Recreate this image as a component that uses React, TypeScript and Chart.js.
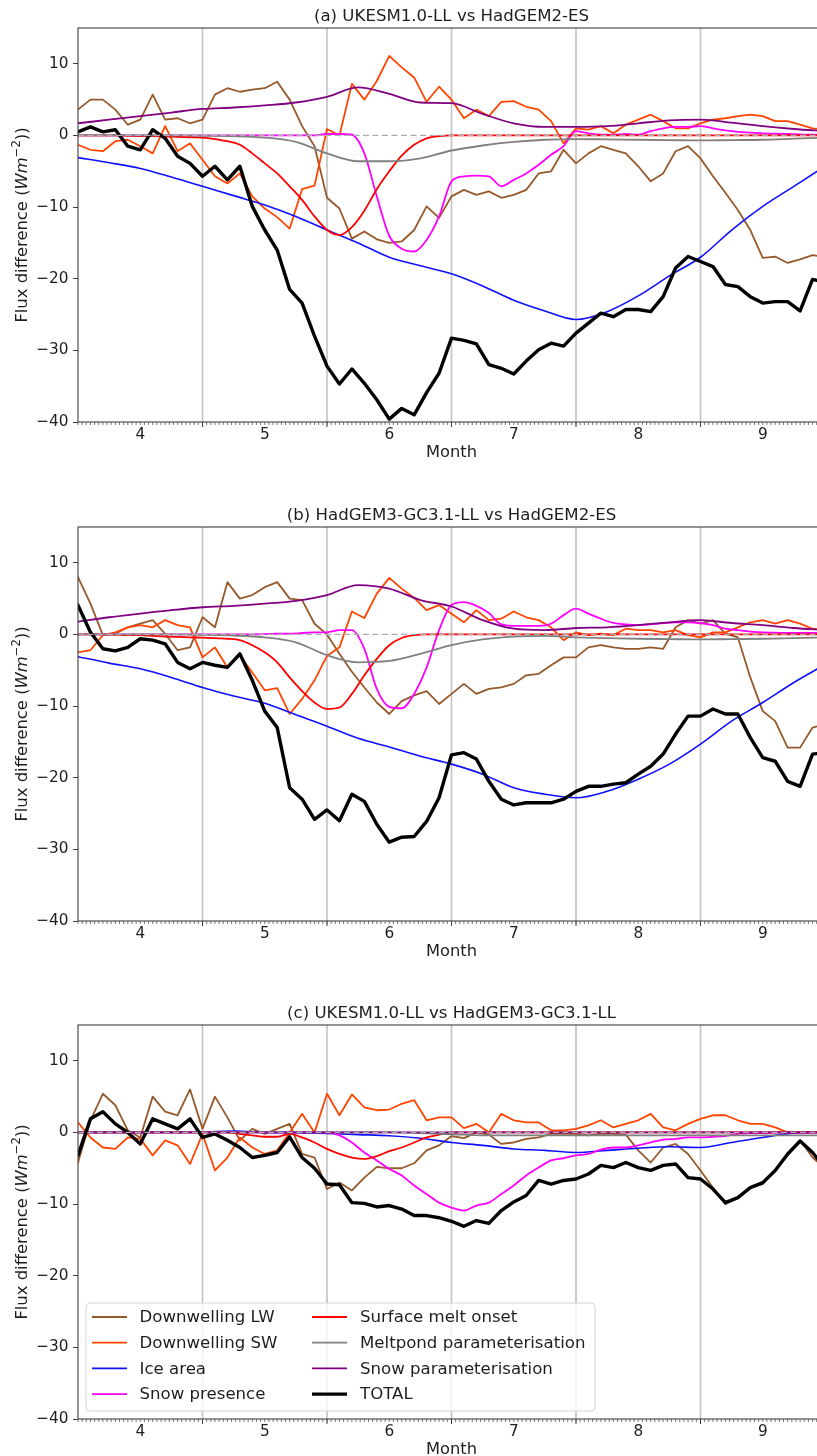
import React, { useEffect, useRef } from "react";
import { Chart, registerables } from "chart.js";

Chart.register(...registerables);

const FONT = "'DejaVu Sans', 'Liberation Sans', sans-serif";
const CANVAS_W = 825;

// Month axis positions (daily-mean curves sampled every 0.1 month, smooth terms every quarter month)
const monthsFine = [
  3.5, 3.6, 3.7, 3.8, 3.9, 4.0, 4.1, 4.2, 4.3, 4.4,
  4.5, 4.6, 4.7, 4.8, 4.9, 5.0, 5.1, 5.2, 5.3, 5.4,
  5.5, 5.6, 5.7, 5.8, 5.9, 6.0, 6.1, 6.2, 6.3, 6.4,
  6.5, 6.6, 6.7, 6.8, 6.9, 7.0, 7.1, 7.2, 7.3, 7.4,
  7.5, 7.6, 7.7, 7.8, 7.9, 8.0, 8.1, 8.2, 8.3, 8.4,
  8.5, 8.6, 8.7, 8.8, 8.9, 9.0, 9.1, 9.2, 9.3, 9.4,
  9.5,
];
const monthsCoarse = [
  3.5, 3.75, 4.0, 4.25,
  4.5, 4.75, 5.0, 5.25,
  5.5, 5.75, 6.0, 6.25,
  6.5, 6.75, 7.0, 7.25,
  7.5, 7.75, 8.0, 8.25,
  8.5, 8.75, 9.0, 9.25,
  9.5,
];
const monthTickLabels = [4, 5, 6, 7, 8, 9];
const monthBoundaries = [4.5, 5.5, 6.5, 7.5, 8.5];
const fluxTicks = [-40, -30, -20, -10, 0, 10];

const seriesNames = [
  "Downwelling LW",
  "Downwelling SW",
  "Ice area",
  "Snow presence",
  "Surface melt onset",
  "Meltpond parameterisation",
  "Snow parameterisation",
  "TOTAL",
];
const seriesColors = ["#96592b", "#ff4500", "#1010ff", "#ff00ff", "#ff0000", "#808080", "#800080", "#000000"];
const seriesWidths = [1.8, 1.8, 1.6, 1.8, 1.8, 1.8, 1.8, 3.4];
const seriesGrid = ["fine", "fine", "coarse", "fine", "fine", "coarse", "coarse", "fine"];
const seriesSmooth = [false, false, true, true, true, true, true, false];

// ---------- (a) UKESM1.0-LL vs HadGEM2-ES ----------
const lwA = [
  3.6, 5.0, 5.0, 3.6, 1.5, 2.2, 5.7, 2.2, 2.4, 1.7,
  2.2, 5.7, 6.6, 6.1, 6.4, 6.6, 7.5, 5.0, 1.3, -1.5,
  -8.7, -10.2, -14.4, -13.4, -14.5, -15.0, -14.8, -13.2, -9.9, -11.5,
  -8.5, -7.6, -8.3, -7.8, -8.7, -8.3, -7.6, -5.3, -5.0, -2.0,
  -3.9, -2.5, -1.5, -2.0, -2.5, -4.3, -6.4, -5.3, -2.2, -1.5,
  -3.2, -5.7, -8.0, -10.4, -13.2, -17.1, -16.9, -17.8, -17.3, -16.7,
  -17.0,
];
const swA = [
  -1.3, -2.0, -2.2, -0.8, -0.6, -1.5, -2.5, 1.3, -2.2, -1.1,
  -3.4, -5.7, -6.7, -5.3, -8.5, -10.2, -11.4, -13.0, -7.5, -7.0,
  0.9, 0.0, 7.2, 5.0, 7.6, 11.1, 9.5, 8.1, 4.7, 6.8,
  5.0, 2.4, 3.6, 2.7, 4.7, 4.8, 4.0, 3.6, 2.0, -1.1,
  1.0, 0.8, 1.3, 0.3, 1.5, 2.2, 2.9, 2.0, 1.0, 1.0,
  1.7, 2.2, 2.4, 2.7, 2.9, 2.7, 2.0, 2.0, 1.5, 1.0,
  0.8,
];
const iceA = [
  -3.1, -3.8, -4.6, -5.8,
  -7.1, -8.4, -9.7, -11.3,
  -13.2, -15.0, -17.0, -18.2,
  -19.3, -21.0, -23.0, -24.5,
  -25.7, -24.6, -22.4, -19.6,
  -17.0, -13.2, -9.9, -7.1,
  -4.3,
];
const snowA = [
  0, 0, 0, 0, 0, 0, 0, 0, 0, 0,
  0, 0, 0, 0, 0, 0, 0, 0, 0, 0,
  0.2, 0.2, 0.1, -2.5, -8.5, -14.0, -15.8, -16.2, -14.6, -11.3,
  -6.4, -5.7, -5.6, -5.7, -7.1, -6.2, -5.3, -4.1, -2.7, -1.5,
  0.6, 0.3, 0.1, 0.1, 0.2, 0.1, 0.6, 1.0, 1.2, 1.2,
  1.3, 1.0, 0.7, 0.5, 0.4, 0.3, 0.25, 0.2, 0.15, 0.1,
  0.1,
];
const meltA = [
  0, 0, 0, 0, -0.05, -0.1, -0.1, -0.15, -0.2, -0.25,
  -0.3, -0.5, -0.8, -1.3, -2.5, -3.9, -5.3, -7.1, -9.0, -11.3,
  -13.2, -13.9, -12.8, -10.5, -7.5, -5.0, -2.8, -1.3, -0.4, -0.1,
  0, 0, 0, 0, 0, 0, 0, 0, 0, 0,
  0, 0, 0, 0, 0, 0, 0, 0, 0, 0,
  0, 0, 0, 0, 0, 0, 0, 0, 0, 0,
  0,
];
const pondA = [
  0, 0, 0, 0,
  -0.05, -0.1, -0.3, -0.9,
  -2.5, -3.6, -3.6, -3.2,
  -2.1, -1.4, -0.9, -0.6,
  -0.5, -0.55, -0.6, -0.65,
  -0.7, -0.65, -0.6, -0.45,
  -0.3,
];
const paramA = [
  1.7, 2.2, 2.7, 3.2,
  3.7, 3.9, 4.2, 4.6,
  5.4, 6.7, 5.8, 4.6,
  4.5, 3.0, 1.7, 1.2,
  1.2, 1.3, 1.7, 2.1,
  2.2, 1.8, 1.3, 0.9,
  0.6,
];
const totalA = [
  0.5, 1.2, 0.5, 0.8, -1.5, -2.0, 0.8, -0.4, -2.9, -3.9,
  -5.7, -4.3, -6.2, -4.3, -9.9, -13.2, -16.0, -21.5, -23.4, -28.0,
  -32.2, -34.7, -32.6, -34.6, -36.9, -39.6, -38.1, -39.0, -35.9, -33.2,
  -28.3, -28.6, -29.1, -32.0, -32.5, -33.3, -31.5, -29.9, -29.0, -29.4,
  -27.6, -26.2, -24.8, -25.3, -24.3, -24.3, -24.6, -22.5, -18.5, -16.9,
  -17.6, -18.3, -20.8, -21.1, -22.5, -23.4, -23.2, -23.2, -24.5, -20.1,
  -20.5,
];

// ---------- (b) HadGEM3-GC3.1-LL vs HadGEM2-ES ----------
const lwB = [
  8.0, 4.3, -0.1, 0.1, 1.0, 1.5, 2.0, 0.1, -2.2, -1.8,
  2.4, 1.0, 7.3, 5.0, 5.5, 6.6, 7.3, 5.0, 4.8, 1.5,
  0.0, -2.7, -5.2, -7.4, -9.5, -11.1, -9.3, -8.5, -7.9, -9.7,
  -8.3, -6.9, -8.3, -7.6, -7.4, -6.9, -5.7, -5.5, -4.3, -3.2,
  -3.2, -1.8, -1.5, -1.8, -2.0, -2.0, -1.8, -2.0, 1.0, 2.0,
  1.5, 2.0, 0.1, -0.4, -6.0, -10.7, -12.1, -15.8, -15.8, -13.0,
  -12.5,
];
const swB = [
  -2.5, -2.2, -0.1, 0.3, 1.0, 1.3, 1.0, 2.0, 1.3, 1.0,
  -3.2, -1.8, -4.6, -2.9, -5.3, -7.8, -7.5, -11.1, -9.0, -6.4,
  -3.0, -1.8, 3.2, 2.3, 5.7, 7.9, 6.4, 5.1, 3.4, 4.1,
  2.9, 1.7, 3.4, 2.0, 2.2, 3.2, 2.4, 2.0, 1.0, -0.8,
  0.3, -0.1, 0.1, -0.1, 0.8, 0.6, 0.6, 0.3, 0.6, -0.1,
  -0.4, 0.3, 0.3, 1.0, 1.7, 2.0, 1.5, 2.0, 1.5, 0.8,
  0.6,
];
const iceB = [
  -3.1, -4.0, -4.8, -6.0,
  -7.4, -8.6, -9.6, -11.2,
  -12.8, -14.5, -15.7, -17.0,
  -18.1, -19.5, -21.4, -22.3,
  -22.8, -21.9, -20.2, -18.1,
  -15.3, -12.1, -9.5, -6.7,
  -4.2,
];
const snowB = [
  0, 0, 0, 0, 0, 0, 0, 0, 0, 0,
  0, 0, 0, 0, 0, 0.05, 0.1, 0.1, 0.2, 0.3,
  0.3, 0.6, 0.6, -2.0, -7.6, -10.1, -10.3, -8.3, -4.6, 0.6,
  4.1, 4.5, 4.0, 3.0, 1.4, 1.2, 1.2, 1.2, 1.5, 2.7,
  3.6, 2.9, 2.2, 1.6, 1.4, 1.3, 1.4, 1.6, 1.7, 1.7,
  1.6, 1.3, 0.8, 0.6, 0.4, 0.3, 0.25, 0.2, 0.2, 0.2,
  0.2,
];
const meltB = [
  0, 0, 0, -0.05, -0.1, -0.1, -0.2, -0.3, -0.35, -0.4,
  -0.45, -0.5, -0.6, -0.8, -1.5, -2.5, -3.9, -6.0, -7.9, -9.5,
  -10.4, -10.2, -8.3, -5.7, -3.4, -1.5, -0.5, -0.1, 0, 0,
  0, 0, 0, 0, 0, 0, 0, 0, 0, 0,
  0, 0, 0, 0, 0, 0, 0, 0, 0, 0,
  0, 0, 0, 0, 0, 0, 0, 0, 0, 0,
  0,
];
const pondB = [
  0, 0, 0, 0,
  -0.05, -0.15, -0.4, -1.1,
  -2.9, -3.9, -3.7, -2.7,
  -1.5, -0.7, -0.3, -0.2,
  -0.4, -0.5, -0.6, -0.65,
  -0.7, -0.65, -0.6, -0.5,
  -0.4,
];
const paramB = [
  1.8, 2.4, 2.9, 3.4,
  3.8, 4.0, 4.3, 4.7,
  5.5, 6.9, 6.4, 4.8,
  3.9, 2.0, 0.8, 0.6,
  0.9, 1.0, 1.3, 1.7,
  2.0, 1.6, 1.3, 0.9,
  0.6,
];
const totalB = [
  4.1, 0.3, -2.0, -2.3, -1.8, -0.6, -0.8, -1.3, -3.9, -4.8,
  -3.9, -4.3, -4.6, -2.7, -6.4, -10.7, -13.0, -21.4, -23.0, -25.8,
  -24.5, -26.0, -22.3, -23.3, -26.5, -29.0, -28.3, -28.2, -26.1, -22.8,
  -16.8, -16.5, -17.4, -20.5, -23.0, -23.8, -23.5, -23.5, -23.5, -23.0,
  -21.9, -21.2, -21.2, -20.9, -20.7, -19.5, -18.4, -16.7, -13.9, -11.4,
  -11.4, -10.4, -11.1, -11.1, -14.4, -17.2, -17.7, -20.5, -21.2, -16.7,
  -16.5,
];

// ---------- (c) UKESM1.0-LL vs HadGEM3-GC3.1-LL ----------
const lwC = [
  -4.2, 1.7, 5.4, 3.8, 0.3, -0.7, 5.0, 2.9, 2.4, 6.0,
  0.5, 5.0, 2.1, -1.1, 0.5, -0.2, 0.5, 1.2, -3.0, -3.5,
  -7.9, -7.0, -8.1, -6.3, -4.8, -5.0, -5.0, -4.3, -2.5, -1.8,
  -0.5, -0.8, 0.0, -0.3, -1.6, -1.4, -0.9, -0.7, -0.2, -0.2,
  -0.2, -0.4, -0.2, -0.2, -0.3, -2.5, -4.2, -2.1, -1.6, -3.0,
  -5.3, -7.7, -10.0, -9.1, -7.7, -7.2, -5.3, -3.2, -1.1, -3.5,
  -5.0,
];
const swC = [
  1.4, -0.7, -2.1, -2.3, -0.7, -0.9, -3.2, -1.1, -1.8, -4.4,
  -0.2, -5.3, -3.5, -0.7, -2.1, -3.0, -2.5, 0.0, 2.6, 0.0,
  5.4, 2.4, 5.3, 3.5, 3.1, 3.2, 4.0, 4.5, 1.7, 2.1,
  2.1, 0.6, 1.2, 0.0, 2.6, 1.7, 1.4, 1.4, 0.3, 0.3,
  0.5, 1.0, 1.7, 0.7, 1.2, 1.7, 2.6, 0.7, 0.3, 1.2,
  1.9, 2.4, 2.4, 1.7, 1.2, 1.2, 0.7, 0.0, 0.0, 0.0,
  0.0,
];
const iceC = [
  0, 0, 0, 0,
  0.05, 0.2, 0.0, -0.05,
  -0.15, -0.3, -0.45, -0.8,
  -1.4, -1.8, -2.3, -2.5,
  -2.8, -2.5, -2.2, -2.0,
  -2.1, -1.4, -0.7, -0.1,
  0,
];
const snowC = [
  0, 0, 0, 0, 0, 0, 0, 0, 0, 0,
  0, 0, 0, 0, 0, 0, 0, 0, 0, 0,
  0, -0.4, -1.4, -2.8, -3.9, -5.1, -6.0, -7.4, -8.6, -9.8,
  -10.5, -10.9, -10.2, -9.8, -8.6, -7.4, -6.0, -4.9, -3.9, -3.6,
  -3.2, -3.0, -2.4, -2.1, -2.1, -1.8, -1.4, -1.0, -0.9, -0.7,
  -0.7, -0.6, -0.5, -0.2, -0.1, -0.1, 0, 0, 0, 0,
  0,
];
const meltC = [
  0, 0, 0, 0, 0, 0, 0, 0, 0, 0,
  0, 0, 0, -0.2, -0.4, -0.6, -0.6, -0.2, -0.7, -1.4,
  -2.3, -3.0, -3.5, -3.7, -3.3, -2.6, -2.1, -1.4, -0.7, -0.3,
  0, 0, 0, 0, 0, 0, 0, 0, 0, 0,
  0, 0, 0, 0, 0, 0, 0, 0, 0, 0,
  0, 0, 0, 0, 0, 0, 0, 0, 0, 0,
  0,
];
const pondC = [
  0, 0, 0, 0,
  0, 0, 0, 0,
  0, 0, 0, -0.1,
  -0.25, -0.4, -0.4, -0.4,
  -0.4, -0.4, -0.4, -0.4,
  -0.4, -0.4, -0.4, -0.4,
  -0.4,
];
const paramC = [
  0, 0, 0, 0,
  0, 0, 0, 0,
  0, 0, 0, 0,
  0, 0, 0, 0,
  0, 0, 0, 0,
  0, 0, 0, 0,
  0,
];
const totalC = [
  -3.2, 1.9, 2.9, 1.2, 0.0, -1.6, 1.9, 1.2, 0.5, 1.9,
  -0.7, -0.2, -1.1, -2.1, -3.5, -3.2, -2.8, -0.6, -3.5, -5.0,
  -7.2, -7.3, -9.8, -9.9, -10.4, -10.2, -10.7, -11.6, -11.6, -11.9,
  -12.4, -13.1, -12.3, -12.7, -10.9, -9.7, -8.8, -6.7, -7.2, -6.7,
  -6.5, -5.8, -4.6, -4.9, -4.2, -4.9, -5.3, -4.6, -4.4, -6.3,
  -6.5, -7.9, -9.8, -9.1, -7.7, -7.0, -5.3, -3.0, -1.2, -2.8,
  -5.0,
];

type PanelSpec = {
  title: string;
  top: number;
  height: number;
  legend: boolean;
  series: number[][];
};

const panels: PanelSpec[] = [
  {
    title: "(a) UKESM1.0-LL vs HadGEM2-ES",
    top: 0,
    height: 499,
    legend: false,
    series: [lwA, swA, iceA, snowA, meltA, pondA, paramA, totalA],
  },
  {
    title: "(b) HadGEM3-GC3.1-LL vs HadGEM2-ES",
    top: 499,
    height: 498,
    legend: false,
    series: [lwB, swB, iceB, snowB, meltB, pondB, paramB, totalB],
  },
  {
    title: "(c) UKESM1.0-LL vs HadGEM3-GC3.1-LL",
    top: 997,
    height: 459,
    legend: true,
    series: [lwC, swC, iceC, snowC, meltC, pondC, paramC, totalC],
  },
];

const PLOT_BOTTOM = 422;
const AXIS_COLOR = "#3f3f3f";
const TEXT_COLOR = "#1e1e1e";

function drawYTitle(ctx: CanvasRenderingContext2D, cx: number, cy: number) {
  const parts = [
    { t: "Flux difference (", f: `16.4px ${FONT}`, dy: 0 },
    { t: "Wm", f: `italic 16.4px ${FONT}`, dy: 0 },
    { t: "\u22122", f: `11.6px ${FONT}`, dy: -6.5 },
    { t: "))", f: `16.4px ${FONT}`, dy: 0 },
  ];
  let total = 0;
  const widths = parts.map((p) => {
    ctx.font = p.f;
    const w = ctx.measureText(p.t).width;
    total += w;
    return w;
  });
  ctx.save();
  ctx.translate(cx, cy);
  ctx.rotate(-Math.PI / 2);
  ctx.fillStyle = TEXT_COLOR;
  ctx.textBaseline = "alphabetic";
  ctx.textAlign = "left";
  let xx = -total / 2;
  parts.forEach((p, i) => {
    ctx.font = p.f;
    ctx.fillText(p.t, xx, p.dy);
    xx += widths[i];
  });
  ctx.restore();
}

function drawLegend(ctx: CanvasRenderingContext2D, left: number, top: number) {
  const w = 509;
  const h = 108;
  const r = 4;
  ctx.save();
  ctx.beginPath();
  ctx.moveTo(left + r, top);
  ctx.lineTo(left + w - r, top);
  ctx.arcTo(left + w, top, left + w, top + r, r);
  ctx.lineTo(left + w, top + h - r);
  ctx.arcTo(left + w, top + h, left + w - r, top + h, r);
  ctx.lineTo(left + r, top + h);
  ctx.arcTo(left, top + h, left, top + h - r, r);
  ctx.lineTo(left, top + r);
  ctx.arcTo(left, top, left + r, top, r);
  ctx.closePath();
  ctx.fillStyle = "rgba(255,255,255,0.8)";
  ctx.fill();
  ctx.strokeStyle = "#d4d4d4";
  ctx.lineWidth = 1;
  ctx.stroke();

  ctx.font = `16.6px ${FONT}`;
  ctx.textBaseline = "middle";
  ctx.textAlign = "left";
  seriesNames.forEach((name, i) => {
    const col = i < 4 ? 0 : 1;
    const row = i % 4;
    const y = top + 14 + row * 25.7;
    const hx = left + (col === 0 ? 6 : 226);
    const tx = left + (col === 0 ? 53.5 : 274);
    ctx.strokeStyle = seriesColors[i];
    ctx.lineWidth = seriesWidths[i];
    ctx.lineCap = "butt";
    ctx.beginPath();
    ctx.moveTo(hx, y);
    ctx.lineTo(hx + 35, y);
    ctx.stroke();
    ctx.fillStyle = TEXT_COLOR;
    ctx.fillText(name, tx, y + 1);
  });
  ctx.restore();
}

function makeFramePlugin(spec: PanelSpec) {
  return {
    id: "fluxFrame",
    beforeDatasetsDraw(chart: any) {
      const { ctx, chartArea: a } = chart;
      const x = chart.scales.x;
      ctx.save();
      ctx.strokeStyle = "#c2c2c2";
      ctx.lineWidth = 1.6;
      for (const m of monthBoundaries) {
        const px = x.getPixelForValue(m);
        ctx.beginPath();
        ctx.moveTo(px, a.top);
        ctx.lineTo(px, a.bottom);
        ctx.stroke();
      }
      ctx.restore();
    },
    afterDatasetsDraw(chart: any) {
      const { ctx, chartArea: a } = chart;
      const x = chart.scales.x;
      const y = chart.scales.y;

      // zero reference line
      ctx.save();
      ctx.beginPath();
      ctx.rect(a.left, a.top, a.right - a.left, a.bottom - a.top);
      ctx.clip();
      const y0 = y.getPixelForValue(0);
      ctx.strokeStyle = "#adadad";
      ctx.lineWidth = 1.3;
      ctx.setLineDash([6, 3.5]);
      ctx.beginPath();
      ctx.moveTo(a.left, y0);
      ctx.lineTo(a.right, y0);
      ctx.stroke();
      ctx.restore();

      // frame
      ctx.save();
      ctx.strokeStyle = AXIS_COLOR;
      ctx.lineWidth = 1.1;
      ctx.strokeRect(a.left, a.top, a.right - a.left, a.bottom - a.top);

      // daily minor ticks and month-boundary major ticks
      ctx.lineWidth = 0.8;
      ctx.strokeStyle = "#555555";
      for (let k = 0; k <= 180; k++) {
        const px = x.getPixelForValue(3.5 + k / 30);
        if (px > a.right + 0.5) break;
        ctx.beginPath();
        ctx.moveTo(px, a.bottom);
        ctx.lineTo(px, a.bottom + 3);
        ctx.stroke();
      }
      ctx.lineWidth = 1;
      ctx.strokeStyle = AXIS_COLOR;
      for (const m of monthBoundaries) {
        const px = x.getPixelForValue(m);
        ctx.beginPath();
        ctx.moveTo(px, a.bottom);
        ctx.lineTo(px, a.bottom + 5);
        ctx.stroke();
      }
      ctx.restore();

      const cx = (a.left + a.right) / 2;
      ctx.save();
      ctx.fillStyle = TEXT_COLOR;
      ctx.textAlign = "center";
      ctx.textBaseline = "alphabetic";
      ctx.font = `16.6px ${FONT}`;
      ctx.fillText(spec.title, cx, 20.5);
      ctx.font = `16.3px ${FONT}`;
      ctx.fillText("Month", cx, a.bottom + 34.5);
      ctx.restore();

      drawYTitle(ctx, 26.5, (a.top + a.bottom) / 2);

      if (spec.legend) {
        drawLegend(ctx, a.left + 8, a.bottom - 8 - 108);
      }
    },
  };
}

function FluxPanel({ spec }: { spec: PanelSpec }) {
  const ref = useRef<HTMLCanvasElement | null>(null);

  useEffect(() => {
    const canvas = ref.current;
    if (!canvas) return;
    const datasets = spec.series.map((ys, i) => {
      const xs = seriesGrid[i] === "fine" ? monthsFine : monthsCoarse;
      return {
        label: seriesNames[i],
        data: xs.map((m, k) => ({ x: m, y: ys[k] })),
        borderColor: seriesColors[i],
        backgroundColor: seriesColors[i],
        borderWidth: seriesWidths[i],
        pointRadius: 0,
        fill: false,
        tension: 0,
        cubicInterpolationMode: seriesSmooth[i] ? "monotone" : "default",
        borderJoinStyle: "round",
        borderCapStyle: "round",
        order: 7 - i,
      };
    });

    const chart = new Chart(canvas, {
      type: "line",
      data: { datasets } as any,
      options: {
        responsive: false,
        animation: false,
        devicePixelRatio: 1,
        events: [],
        layout: { padding: { top: 28, left: 0, right: 0, bottom: 0 } },
        plugins: {
          legend: { display: false },
          tooltip: { enabled: false },
          title: { display: false },
        },
        scales: {
          x: {
            type: "linear",
            min: 3.5,
            max: 9.5,
            afterBuildTicks: (s: any) => {
              s.ticks = monthTickLabels.map((v) => ({ value: v }));
            },
            afterFit: (s: any) => {
              s.height = spec.height - PLOT_BOTTOM;
            },
            grid: { display: false, drawTicks: false },
            border: { display: false },
            ticks: {
              font: { family: FONT, size: 15.3 },
              color: TEXT_COLOR,
              padding: 4,
              maxRotation: 0,
              autoSkip: false,
            },
          },
          y: {
            type: "linear",
            min: -40,
            max: 15,
            afterBuildTicks: (s: any) => {
              s.ticks = fluxTicks.map((v) => ({ value: v }));
            },
            afterFit: (s: any) => {
              s.width = 78;
            },
            grid: {
              display: true,
              drawOnChartArea: false,
              drawTicks: true,
              tickLength: 5,
              color: AXIS_COLOR,
              tickColor: AXIS_COLOR,
              lineWidth: 1,
            },
            border: { display: false },
            ticks: {
              font: { family: FONT, size: 15.3 },
              color: TEXT_COLOR,
              padding: 4.5,
              autoSkip: false,
              callback: (v: any) => String(v).replace("-", "\u2212"),
            },
          },
        },
      } as any,
      plugins: [makeFramePlugin(spec)],
    });
    return () => chart.destroy();
  }, [spec]);

  return (
    <canvas
      ref={ref}
      width={CANVAS_W}
      height={spec.height}
      style={{ position: "absolute", left: 0, top: spec.top, width: CANVAS_W, height: spec.height }}
    />
  );
}

export default function App() {
  return (
    <div
      style={{
        position: "fixed",
        left: 0,
        top: 0,
        width: 817,
        height: 1456,
        overflow: "hidden",
        background: "#ffffff",
      }}
    >
      {panels.map((p) => (
        <FluxPanel key={p.title} spec={p} />
      ))}
    </div>
  );
}
